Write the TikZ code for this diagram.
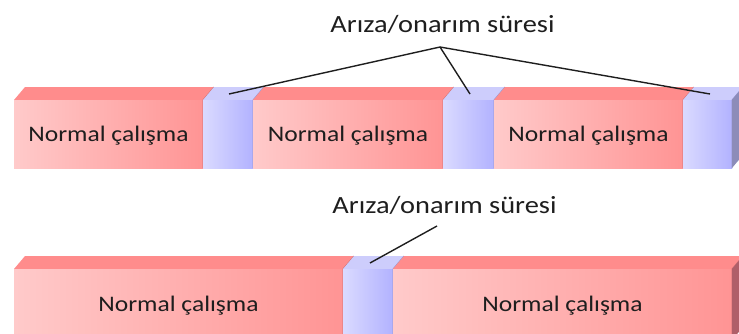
\documentclass[tikz,border=0pt]{standalone}
\usepackage{fontspec}
\newfontfamily\boxfont[FakeStretch=1.15]{Carlito}
\definecolor{rL}{RGB}{255,202,202}
\definecolor{rR}{RGB}{255,148,148}
\definecolor{rT}{RGB}{255,140,140}
\definecolor{rE}{RGB}{205,110,115}
\definecolor{rS}{RGB}{175,95,105}
\definecolor{bL}{RGB}{218,218,255}
\definecolor{bR}{RGB}{178,178,255}
\definecolor{bT}{RGB}{205,205,252}
\definecolor{bE}{RGB}{150,150,205}
\definecolor{bS}{RGB}{140,140,185}
\definecolor{ink}{RGB}{30,30,30}
\tikzset{
  rfront/.style={left color=rL,right color=rR},
  rtop/.style={fill=rT},
  redge/.style={draw=rE,line width=0.9pt},
  bfront/.style={left color=bL,right color=bR},
  btop/.style={fill=bT},
  bedge/.style={draw=bE,line width=0.9pt},
  boxtext/.style={font=\boxfont\fontsize{22.2}{26}\selectfont,text=ink,anchor=base,inner sep=0pt},
  lbltext/.style={font=\boxfont\fontsize{24.7}{29}\selectfont,text=ink,anchor=base,inner sep=0pt},
  leader/.style={draw=ink,line width=1.4pt}
}
\newcommand\segblk[5]{%
  \fill[#5top] (#1,#3) -- (#1+11,#3-13) -- (#2+11,#3-13) -- (#2,#3) -- cycle;
  \shade[#5front] (#1,#3) rectangle (#2,#4);
  \draw[#5edge] (#2,#4) -- (#2,#3) -- (#2+11,#3-13);
}
\begin{document}
\begin{tikzpicture}[x=1pt,y=-1pt]
\useasboundingbox (0,0) rectangle (739,333);
\begin{scope}
\clip (0,0) rectangle (739,333);
% top row
\segblk{14}{203}{100}{168}{r}
\segblk{203}{253}{100}{168}{b}
\segblk{253}{443}{100}{168}{r}
\segblk{443}{494}{100}{168}{b}
\segblk{494}{683}{100}{168}{r}
\segblk{683}{732}{100}{168}{b}
\fill[bS] (732,100) -- (743,87) -- (743,155) -- (732,168) -- cycle;
% bottom row
\segblk{14}{343}{269}{340}{r}
\segblk{343}{393}{269}{340}{b}
\segblk{393}{732}{269}{340}{r}
\fill[rS] (732,269) -- (743,256) -- (743,327) -- (732,340) -- cycle;
\end{scope}
% texts
\node[boxtext] (n1) at (108.5,141.7) {Normal çalışma};
\node[boxtext] (n2) at (348,141.7) {Normal çalışma};
\node[boxtext] (n3) at (588.5,141.7) {Normal çalışma};
\node[boxtext] (n4) at (178.5,311.5) {Normal çalışma};
\node[boxtext] (n5) at (562.5,311.5) {Normal çalışma};
\node[lbltext] (l1) at (442.5,32.3) {Arıza/onarım süresi};
\node[lbltext] (l2) at (444.5,213) {Arıza/onarım süresi};
% leader lines
\coordinate (apex) at (440,47);
\coordinate (t1) at (229,94);
\coordinate (t2) at (470,94);
\coordinate (t3) at (710,94);
\coordinate (apexb) at (437,226);
\coordinate (t4) at (370,263);
\draw[leader] (apex) -- (t1);
\draw[leader] (apex) -- (t2);
\draw[leader] (apex) -- (t3);
\draw[leader] (apexb) -- (t4);
\end{tikzpicture}
\end{document}
